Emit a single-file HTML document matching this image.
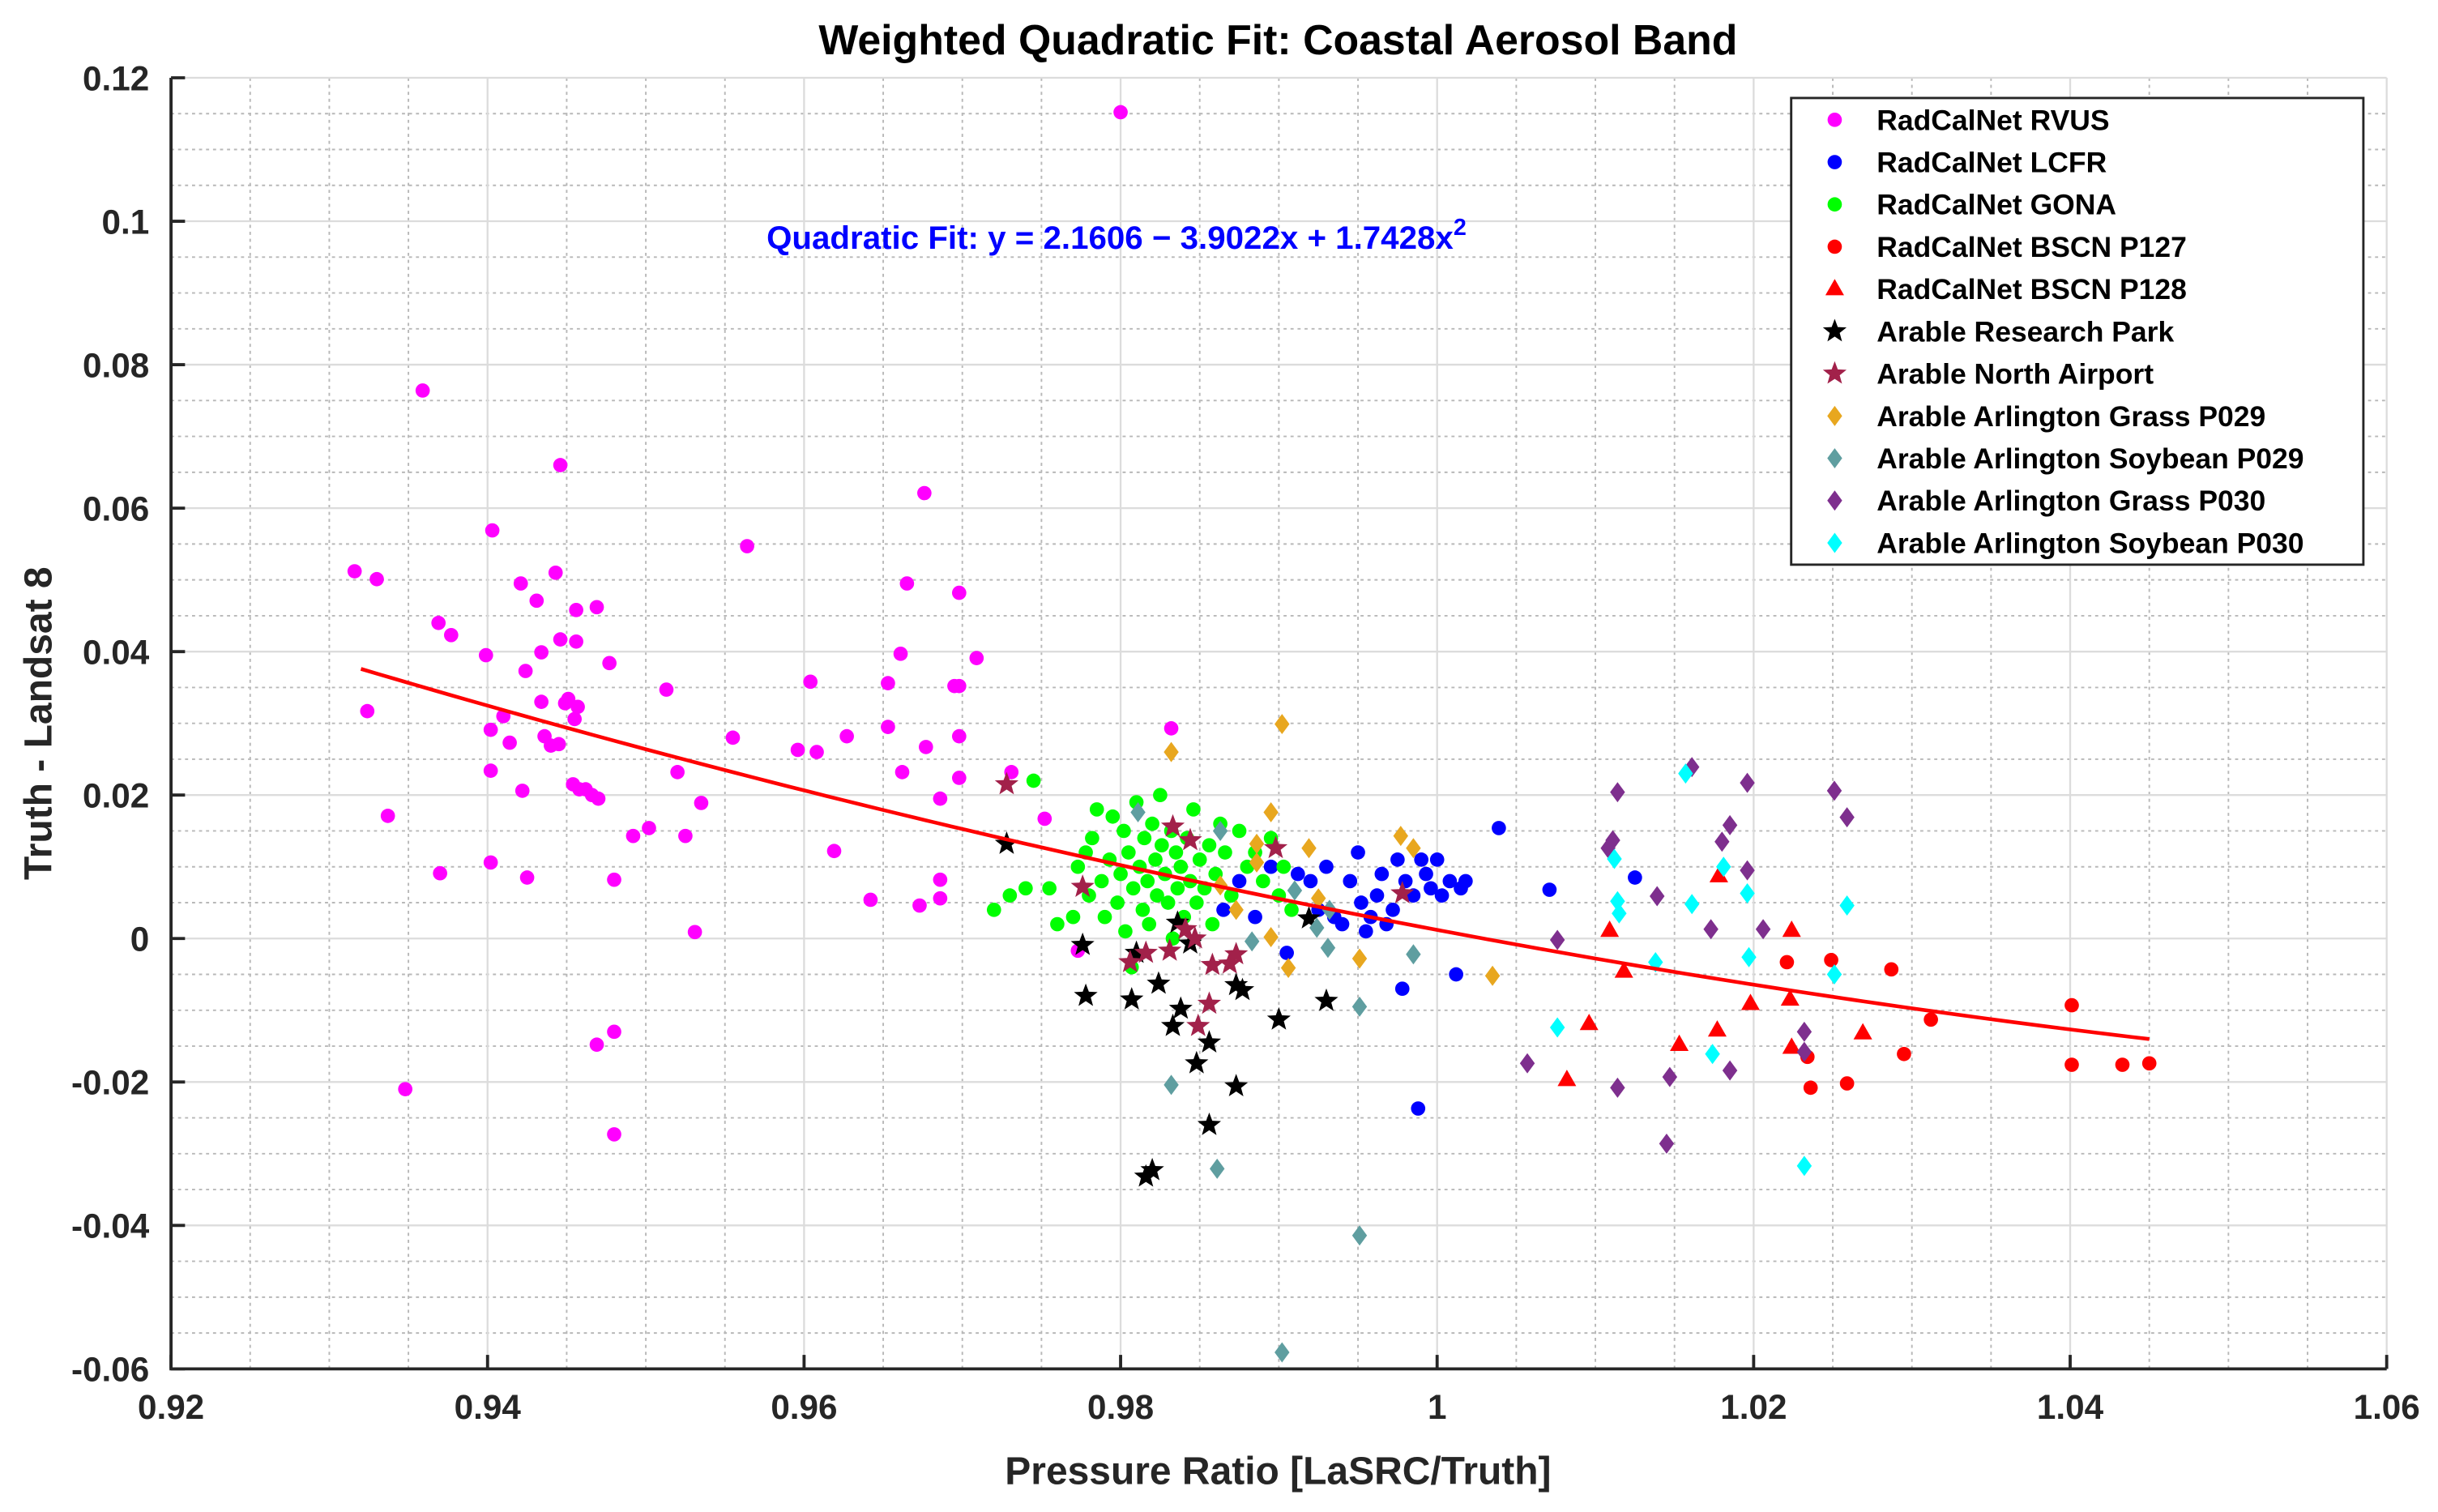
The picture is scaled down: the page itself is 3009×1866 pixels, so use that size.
<!DOCTYPE html>
<html><head><meta charset="utf-8"><style>
html,body{margin:0;padding:0;background:#fff;}
svg{display:block;}
text{font-family:"Liberation Sans",Arial,sans-serif;font-weight:bold;}
</style></head><body>
<svg id="chart" width="3009" height="1866" viewBox="0 0 1568 972" preserveAspectRatio="none" xmlns="http://www.w3.org/2000/svg">
<g id="grid"></g>
<g id="marks"></g>
<g id="axes"></g>
<text x="822" y="35" font-size="27" text-anchor="middle" fill="#000">Weighted Quadratic Fit: Coastal Aerosol Band</text>
<text x="822" y="954" font-size="25" text-anchor="middle" fill="#262626">Pressure Ratio [LaSRC/Truth]</text>
<text transform="translate(33,465) rotate(-90)" font-size="25" text-anchor="middle" fill="#262626">Truth - Landsat 8</text>
<text x="493" y="160" font-size="21" fill="#0000ff">Quadratic Fit: y = 2.1606 − 3.9022x + 1.7428x<tspan dy="-9" font-size="15">2</tspan></text>
<g id="legend"></g>
</svg>
<script>
const xTicks=[0.92,0.94,0.96,0.98,1,1.02,1.04,1.06];
const yTicks=[0.12,0.1,0.08,0.06,0.04,0.02,0,-0.02,-0.04,-0.06];
const xTickLabels=["0.92","0.94","0.96","0.98","1","1.02","1.04","1.06"];
const yTickLabels=["0.12","0.1","0.08","0.06","0.04","0.02","0","-0.02","-0.04","-0.06"];
const fitCoef=[2.1606,-3.9022,1.7428];
const fitRange=[0.932,1.045];
const rvusX=[0.9316,0.9330,0.9324,0.9337,0.9359,0.9348,0.9369,0.9377,0.9370,0.9399,0.9403,0.9402,0.9402,0.9402,0.9410,0.9414,0.9421,0.9424,0.9422,0.9425,0.9431,0.9434,0.9434,0.9436,0.9440,0.9443,0.9445,0.9446,0.9446,0.9449,0.9456,0.9456,0.9451,0.9457,0.9455,0.9454,0.9458,0.9462,0.9466,0.9469,0.9470,0.9477,0.9480,0.9480,0.9469,0.9480,0.9492,0.9502,0.9513,0.9520,0.9525,0.9535,0.9531,0.9555,0.9564,0.9596,0.9604,0.9608,0.9619,0.9627,0.9642,0.9653,0.9653,0.9661,0.9662,0.9665,0.9673,0.9676,0.9677,0.9686,0.9686,0.9686,0.9695,0.9698,0.9698,0.9698,0.9698,0.9709,0.9731,0.9752,0.9773,0.9800,0.9832];
const rvusY=[0.0512,0.0501,0.0317,0.0171,0.0764,-0.0210,0.0440,0.0423,0.0091,0.0395,0.0569,0.0291,0.0234,0.0106,0.0310,0.0273,0.0495,0.0373,0.0206,0.0085,0.0471,0.0399,0.0330,0.0282,0.0269,0.0510,0.0271,0.0660,0.0417,0.0328,0.0458,0.0414,0.0334,0.0323,0.0306,0.0215,0.0208,0.0208,0.0200,0.0462,0.0195,0.0384,0.0082,-0.0130,-0.0148,-0.0273,0.0143,0.0154,0.0347,0.0232,0.0143,0.0189,0.0009,0.0280,0.0547,0.0263,0.0358,0.0260,0.0122,0.0282,0.0054,0.0356,0.0295,0.0397,0.0232,0.0495,0.0046,0.0621,0.0267,0.0195,0.0082,0.0056,0.0352,0.0352,0.0482,0.0282,0.0224,0.0391,0.0232,0.0167,-0.0017,0.1152,0.0293];
const lcfrX=[0.9865,0.9875,0.9885,0.9895,0.9905,0.9912,0.9920,0.9925,0.9930,0.9935,0.9940,0.9945,0.9950,0.9952,0.9955,0.9958,0.9962,0.9965,0.9968,0.9972,0.9975,0.9978,0.9980,0.9985,0.9990,0.9993,0.9996,1.0000,1.0003,1.0008,1.0012,1.0015,1.0018,1.0039,1.0071,1.0125,0.9988];
const lcfrY=[0.004,0.008,0.003,0.010,-0.002,0.009,0.008,0.004,0.010,0.003,0.002,0.008,0.012,0.005,0.001,0.003,0.006,0.009,0.002,0.004,0.011,-0.007,0.008,0.006,0.011,0.009,0.007,0.011,0.006,0.008,-0.005,0.007,0.008,0.0154,0.0068,0.0085,-0.0237];
const gonaX=[0.9720,0.9730,0.9740,0.9745,0.9755,0.9760,0.9770,0.9773,0.9778,0.9780,0.9782,0.9785,0.9788,0.9790,0.9793,0.9795,0.9798,0.9800,0.9802,0.9803,0.9805,0.9807,0.9808,0.9810,0.9812,0.9814,0.9815,0.9817,0.9818,0.9820,0.9822,0.9823,0.9825,0.9826,0.9828,0.9830,0.9832,0.9833,0.9835,0.9836,0.9838,0.9840,0.9842,0.9844,0.9846,0.9848,0.9850,0.9853,0.9856,0.9858,0.9860,0.9863,0.9866,0.9870,0.9875,0.9880,0.9885,0.9890,0.9895,0.9900,0.9903,0.9908];
const gonaY=[0.004,0.006,0.007,0.022,0.007,0.002,0.003,0.010,0.012,0.006,0.014,0.018,0.008,0.003,0.011,0.017,0.005,0.009,0.015,0.001,0.012,-0.004,0.007,0.019,0.010,0.004,0.014,0.008,0.002,0.016,0.011,0.006,0.020,0.013,0.009,0.005,0.015,0.000,0.012,0.007,0.010,0.003,0.014,0.008,0.018,0.005,0.011,0.007,0.013,0.002,0.009,0.016,0.012,0.006,0.015,0.010,0.012,0.008,0.014,0.006,0.010,0.004];
const p127X=[1.0221,1.0234,1.0236,1.0249,1.0259,1.0287,1.0295,1.0312,1.0401,1.0401,1.0433,1.0450];
const p127Y=[-0.0033,-0.0165,-0.0208,-0.0030,-0.0202,-0.0043,-0.0161,-0.0113,-0.0093,-0.0176,-0.0176,-0.0174];
const p128X=[1.0082,1.0096,1.0109,1.0118,1.0153,1.0177,1.0178,1.0198,1.0224,1.0223,1.0224,1.0269];
const p128Y=[-0.0197,-0.0119,0.0011,-0.0046,-0.0148,-0.0128,0.0087,-0.0091,0.0011,-0.0085,-0.0152,-0.0132];
const rpX=[0.9728,0.9776,0.9778,0.9807,0.9810,0.9824,0.9816,0.9820,0.9836,0.9833,0.9838,0.9844,0.9848,0.9856,0.9856,0.9873,0.9877,0.9873,0.9900,0.9919,0.9930];
const rpY=[0.0132,-0.0009,-0.0080,-0.0085,-0.0020,-0.0063,-0.0332,-0.0323,0.0022,-0.0122,-0.0098,-0.0007,-0.0174,-0.0145,-0.0260,-0.0065,-0.0072,-0.0206,-0.0113,0.0028,-0.0087];
const naX=[0.9728,0.9776,0.9806,0.9816,0.9831,0.9833,0.9841,0.9844,0.9847,0.9849,0.9856,0.9858,0.9869,0.9873,0.9898,0.9978];
const naY=[0.0215,0.0072,-0.0033,-0.0020,-0.0017,0.0156,0.0013,0.0137,0.0000,-0.0122,-0.0091,-0.0037,-0.0035,-0.0022,0.0126,0.0063];
const g29X=[0.9832,0.9902,0.9886,0.9895,0.9886,0.9895,0.9906,0.9919,0.9925,0.9951,0.9977,0.9985,1.0035,0.9863,0.9873];
const g29Y=[0.0260,0.0299,0.0132,0.0176,0.0106,0.0002,-0.0041,0.0126,0.0056,-0.0028,0.0143,0.0126,-0.0052,0.0074,0.0040];
const s29X=[0.9811,0.9832,0.9861,0.9863,0.9883,0.9902,0.9910,0.9924,0.9931,0.9951,0.9951,0.9985,0.9932];
const s29Y=[0.0176,-0.0204,-0.0321,0.0150,-0.0004,-0.0577,0.0067,0.0015,-0.0013,-0.0095,-0.0414,-0.0022,0.0040];
const g30X=[1.0057,1.0076,1.0114,1.0111,1.0114,1.0139,1.0145,1.0147,1.0161,1.0173,1.0180,1.0185,1.0185,1.0196,1.0196,1.0206,1.0232,1.0232,1.0251,1.0259,1.0108];
const g30Y=[-0.0174,-0.0002,0.0204,0.0137,-0.0208,0.0059,-0.0286,-0.0193,0.0239,0.0013,0.0135,0.0158,-0.0184,0.0217,0.0095,0.0013,-0.0130,-0.0158,0.0206,0.0169,0.0126];
const s30X=[1.0076,1.0112,1.0114,1.0115,1.0138,1.0157,1.0161,1.0174,1.0181,1.0196,1.0197,1.0232,1.0251,1.0259];
const s30Y=[-0.0124,0.0111,0.0052,0.0035,-0.0033,0.0230,0.0048,-0.0161,0.0100,0.0063,-0.0026,-0.0317,-0.0050,0.0046];
const seriesNames=["RadCalNet RVUS","RadCalNet LCFR","RadCalNet GONA","RadCalNet BSCN P127","RadCalNet BSCN P128","Arable Research Park","Arable North Airport","Arable Arlington Grass P029","Arable Arlington Soybean P029","Arable Arlington Grass P030","Arable Arlington Soybean P030"];

const NS="http://www.w3.org/2000/svg";
const L=110,R=1535,T=50,B=880,X0=0.92,X1=1.06,Y0=-0.06,Y1=0.12;
function sx(v){return L+(v-X0)/(X1-X0)*(R-L);}
function sy(v){return B-(v-Y0)/(Y1-Y0)*(B-T);}
function mk(tag,attrs,parent){const e=document.createElementNS(NS,tag);for(const k in attrs)e.setAttribute(k,attrs[k]);parent.appendChild(e);return e;}
const grid=document.getElementById('grid'),marks=document.getElementById('marks'),axes=document.getElementById('axes'),legend=document.getElementById('legend');
for(let i=0;i<=28;i++){const v=X0+i*0.005;if(i%4===0)continue;const x=sx(v);
 const g=mk('line',{x1:x,x2:x,y1:T,y2:B,stroke:'#b8b8b8','stroke-width':1,'stroke-dasharray':'2,2.5'},grid);
 
 }
for(let i=0;i<=36;i++){const v=Y0+i*0.005;if(i%4===0)continue;const y=sy(v);
 const g=mk('line',{x1:L,x2:R,y1:y,y2:y,stroke:'#b8b8b8','stroke-width':1,'stroke-dasharray':'2,2.5'},grid);
 
 }
xTicks.forEach((v,i)=>{const x=sx(v);
 const g=mk('line',{x1:x,x2:x,y1:T,y2:B,stroke:'#dcdcdc','stroke-width':1.2},grid);
 
 
 const t=mk('line',{x1:x,x2:x,y1:B,y2:B-9,stroke:'#262626','stroke-width':2},axes);
 
 
 const lb=mk('text',{x:x,y:B+32,'font-size':22,'text-anchor':'middle',fill:'#262626'},axes);lb.textContent=xTickLabels[i];
 
 });
yTicks.forEach((v,i)=>{const y=sy(v);
 const g=mk('line',{x1:L,x2:R,y1:y,y2:y,stroke:'#dcdcdc','stroke-width':1.2},grid);
 
 
 const t=mk('line',{x1:L,x2:L+9,y1:y,y2:y,stroke:'#262626','stroke-width':2},axes);
 
 
 const lb=mk('text',{x:L-14,y:y+8,'font-size':22,'text-anchor':'end',fill:'#262626'},axes);lb.textContent=yTickLabels[i];
 
 });
const ax=mk('path',{d:`M${L},${T}V${B}H${R}`,fill:'none',stroke:'#262626','stroke-width':2},axes);



function star(cx,cy,r){let p=[];for(let i=0;i<10;i++){const a=-Math.PI/2+i*Math.PI/5;const rr=i%2?r*0.42:r;p.push((cx+rr*Math.cos(a)).toFixed(2)+','+(cy+rr*Math.sin(a)).toFixed(2));}return p.join(' ');}
function drawMarker(type,color,x,y,parent){
 let e;
 if(type==='o')e=mk('circle',{cx:x,cy:y,r:4.6,fill:color},parent);
 else if(type==='^')e=mk('polygon',{points:`${x},${y-6.5} ${x-6},${y+4} ${x+6},${y+4}`,fill:color},parent);
 else if(type==='*')e=mk('polygon',{points:star(x,y,8),fill:color},parent);
 else e=mk('polygon',{points:`${x},${y-6.5} ${x+4.8},${y} ${x},${y+6.5} ${x-4.8},${y}`,fill:color},parent);
 return e;}
const seriesX=[rvusX,lcfrX,gonaX,p127X,p128X,rpX,naX,g29X,s29X,g30X,s30X];
const seriesY=[rvusY,lcfrY,gonaY,p127Y,p128Y,rpY,naY,g29Y,s29Y,g30Y,s30Y];
const colors=['#ff00ff','#0000ff','#00ff00','#ff0000','#ff0000','#000000','#a2214a','#e8a71f','#5f9ea0','#7e2f8e','#00ffff'];
const types=['o','o','o','o','^','*','*','d','d','d','d'];
const keys=['rvus','lcfr','gona','bscn-p127','bscn-p128','research-park','north-airport','grass-p029','soybean-p029','grass-p030','soybean-p030'];
seriesX.forEach((xs,s)=>{const g=mk('g',{},marks);
 
 
 xs.forEach((v,i)=>{const e=drawMarker(types[s],colors[s],sx(v),sy(seriesY[s][i]),g);
  
  });});
let d='';for(let i=0;i<=100;i++){const xv=fitRange[0]+(fitRange[1]-fitRange[0])*i/100;const yv=fitCoef[0]+fitCoef[1]*xv+fitCoef[2]*xv*xv;d+=(i?'L':'M')+sx(xv).toFixed(2)+','+sy(yv).toFixed(2);}
const fl=mk('path',{d:d,fill:'none',stroke:'#ff0000','stroke-width':2.4},marks);


const box=mk('rect',{x:1152,y:63,width:368,height:300,fill:'#fff',stroke:'#262626','stroke-width':1.5},legend);


seriesNames.forEach((n,i)=>{const y=77+i*27.2;const g=mk('g',{},legend);
 
 
 drawMarker(types[i],colors[i],1180,y,g);
 const t=mk('text',{x:1207,y:y+6.5,'font-size':18.5,fill:'#000'},g);t.textContent=n;});
</script>
</body></html>
